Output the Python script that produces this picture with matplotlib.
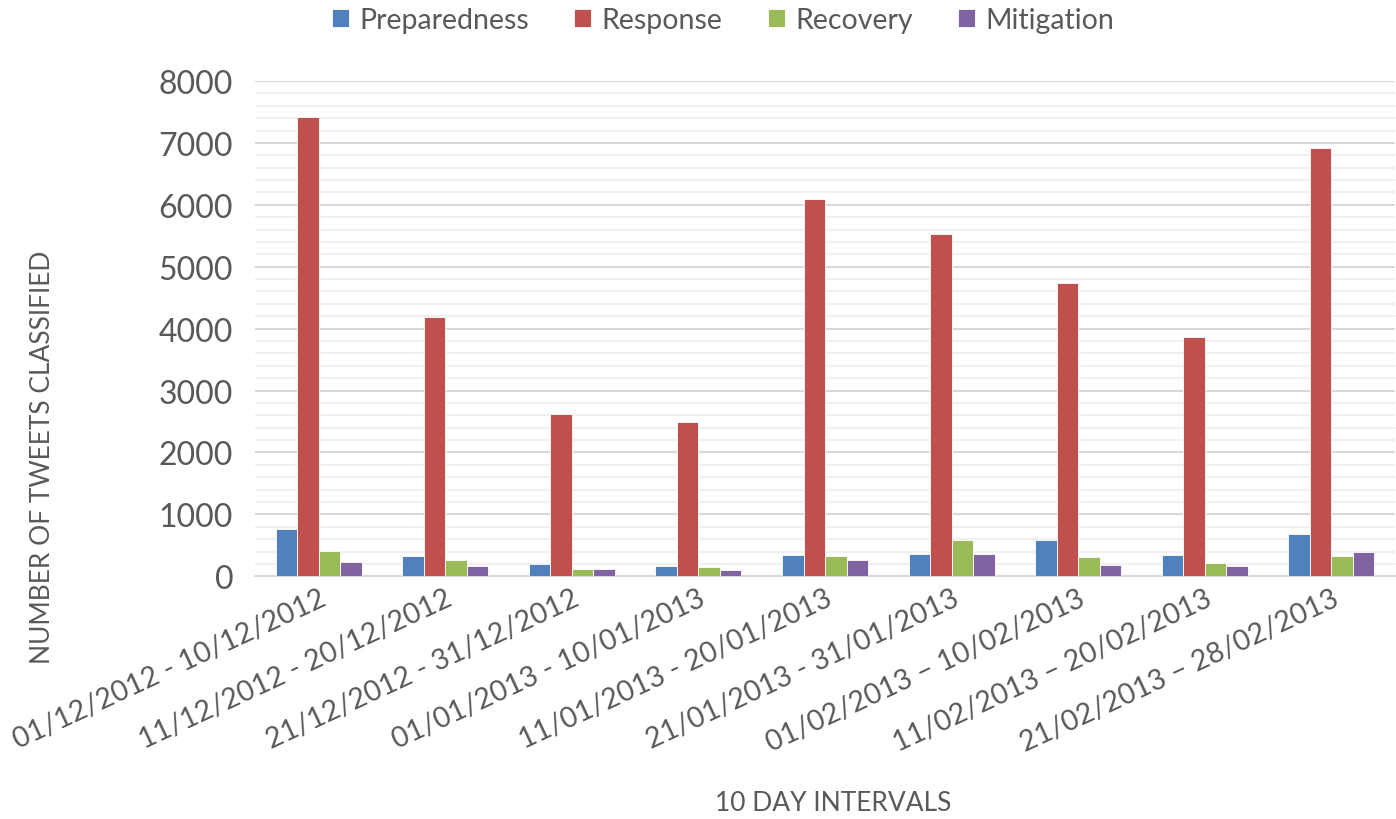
import numpy as np
import matplotlib.pyplot as plt
from matplotlib.ticker import MultipleLocator

intervals = ["01/12/2012 - 10/12/2012", "11/12/2012 - 20/12/2012", "21/12/2012 - 31/12/2012",
             "01/01/2013 - 10/01/2013", "11/01/2013 - 20/01/2013", "21/01/2013 - 31/01/2013",
             "01/02/2013 \u2013 10/02/2013", "11/02/2013 \u2013 20/02/2013", "21/02/2013 \u2013 28/02/2013"]

preparedness = [760, 320, 200, 165, 345, 365, 585, 345, 690]
response = [7415, 4185, 2615, 2490, 6090, 5525, 4735, 3865, 6915]
recovery = [405, 260, 115, 150, 325, 585, 310, 220, 320]
mitigation = [225, 170, 110, 100, 260, 360, 180, 170, 395]

series = [("Preparedness", preparedness, "#4F81BD"),
          ("Response", response, "#C0504D"),
          ("Recovery", recovery, "#9BBB59"),
          ("Mitigation", mitigation, "#8064A2")]

plt.rcParams['font.family'] = ['Lato', 'DejaVu Sans']
txt = "#595959"

fig = plt.figure(figsize=(13.96, 8.2), dpi=100)
ax = fig.add_axes([0.183, 0.296, 0.816, 0.604])

x = np.arange(len(intervals))
w = 0.17
for i, (name, vals, col) in enumerate(series):
    ax.bar(x + (i - 1.5) * w, vals, w, color=col, edgecolor="#ffffff", linewidth=0.6,
           label=name, zorder=3)

ax.set_xlim(-0.5, len(intervals) - 0.5)
ax.set_ylim(0, 8000)
ax.yaxis.set_major_locator(MultipleLocator(1000))
ax.yaxis.set_minor_locator(MultipleLocator(200))
ax.grid(axis='y', which='major', color="#d9d9d9", linewidth=1.5, zorder=0)
ax.grid(axis='y', which='minor', color="#f0f0f0", linewidth=1.5, zorder=0)
for s in ['top', 'right', 'left']:
    ax.spines[s].set_visible(False)
ax.spines['bottom'].set_color("#d9d9d9")
ax.spines['bottom'].set_linewidth(1.5)
ax.tick_params(axis='both', which='both', length=0, colors=txt)
ax.tick_params(axis='y', labelsize=23, pad=16)
ax.tick_params(axis='x', labelsize=20.5, pad=6)
ax.set_xticks(x)
ax.set_xticklabels(intervals, rotation=25, ha='right', rotation_mode='anchor')

ax.set_ylabel("NUMBER OF TWEETS CLASSIFIED", fontsize=19, color=txt, va='center')
ax.yaxis.set_label_coords((42 - 255) / 1140, (577 - 457) / 495)
ax.set_xlabel("10 DAY INTERVALS", fontsize=19, color=txt, va='center')
ax.xaxis.set_label_coords((833 - 255) / 1140, (577 - 803) / 495)

fig.legend(loc='center', bbox_to_anchor=(723 / 1396, 1 - 21 / 820), ncol=4, frameon=False,
           fontsize=20.5, labelcolor=txt, handlelength=0.6, handleheight=0.6,
           handletextpad=0.35, columnspacing=1.6)

fig.savefig("out.png", dpi=100)
